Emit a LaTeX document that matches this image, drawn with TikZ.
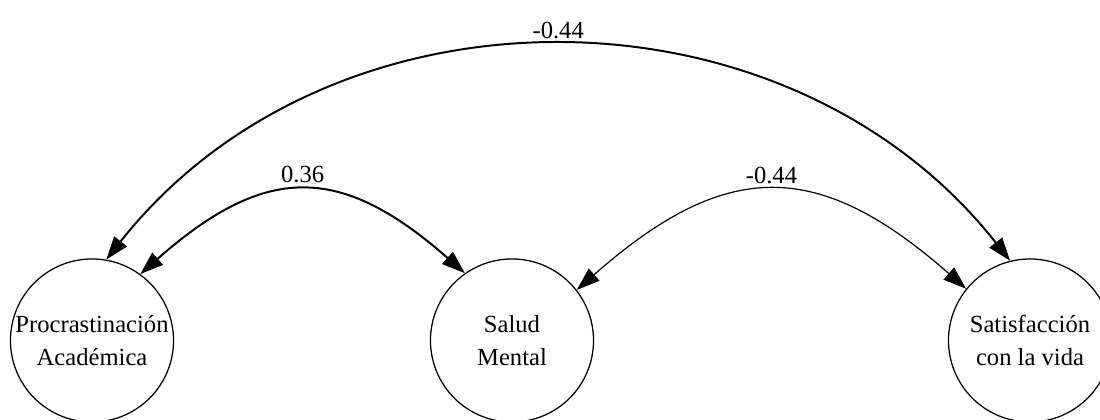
\documentclass[tikz,border=0pt]{standalone}
\usepackage{fontspec}
\setmainfont{Liberation Serif}
\usetikzlibrary{arrows.meta}

\begin{document}
\begin{tikzpicture}[x=0.025cm,y=0.025cm,
  latent/.style={draw,circle,line width=0.9pt,minimum size=4.075cm,inner sep=0pt,
    align=center,font=\fontsize{17.5}{24}\selectfont},
  cov/.style={{Triangle[length=0.58cm,width=0.4cm]}-{Triangle[length=0.58cm,width=0.4cm]}},
  coef/.style={midway,above,inner sep=5pt,font=\fontsize{17.5}{21}\selectfont}]
  \useasboundingbox (0,0) rectangle (1100,420);
  \clip (0,0) rectangle (1100,420);

  %latent variables
  \node[latent] (pa) at (92,79.5) {Procrastinación\\Académica};
  \node[latent] (sm) at (512,79.5) {Salud\\Mental};
  \node[latent] (sv) at (1030,79.5) {Satisfacción\\con la vida};

  %covariances
  \draw[cov,line width=1.4pt] (pa.80) .. controls +(225,285) and +(-225,285) .. (sv.104)
    node[coef] (c1) {-0.44};
  \draw[cov,line width=1.4pt] (pa.54) .. controls +(125,110) and +(-125,110) .. (sm.125)
    node[coef] (c2) {0.36};
  \draw[cov,line width=0.85pt] (sm.38) .. controls +(149,131) and +(-149,131) .. (sv.141)
    node[coef] (c3) {-0.44};

\end{tikzpicture}
\end{document}
